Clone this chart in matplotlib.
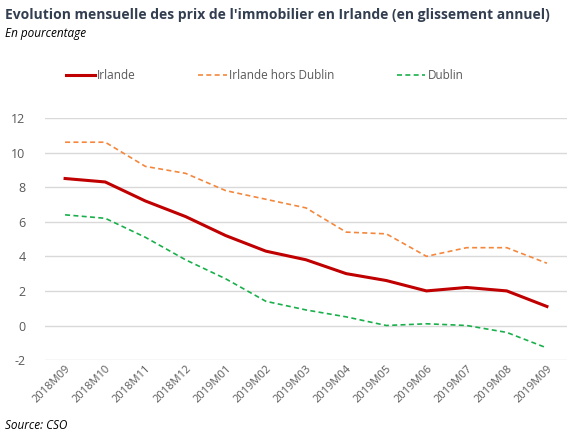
import matplotlib.pyplot as plt
import numpy as np

mois = ["2018M09", "2018M10", "2018M11", "2018M12", "2019M01", "2019M02", "2019M03",
        "2019M04", "2019M05", "2019M06", "2019M07", "2019M08", "2019M09"]
irlande = [8.5, 8.3, 7.2, 6.3, 5.2, 4.3, 3.8, 3.0, 2.6, 2.0, 2.2, 2.0, 1.1]
hors_dublin = [10.6, 10.6, 9.2, 8.8, 7.8, 7.3, 6.8, 5.4, 5.3, 4.0, 4.5, 4.5, 3.6]
dublin = [6.4, 6.2, 5.1, 3.8, 2.7, 1.4, 0.9, 0.5, 0.0, 0.1, 0.0, -0.4, -1.3]
yticks = [-2, 0, 2, 4, 6, 8, 10, 12]

plt.rcParams['font.family'] = ['Open Sans', 'DejaVu Sans']
fig = plt.figure(figsize=(5.8, 4.37), dpi=100)
ax = fig.add_axes([0.0776, 0.176, 0.9, 0.554])

x = np.arange(len(mois))
ax.plot(x, irlande, color="#C00000", lw=2.2, label="Irlande")
ax.plot(x, hors_dublin, color="#F4873C", lw=1.2, ls=(0, (3, 2)), label="Irlande hors Dublin")
ax.plot(x, dublin, color="#19B04B", lw=1.2, ls=(0, (3, 2)), label="Dublin")

ax.set_xlim(-0.5, len(mois) - 0.5)
ax.set_ylim(-2, 12)
ax.set_yticks(yticks)
ax.set_yticklabels([str(v) for v in yticks], fontsize=9, color="#595959")
ax.set_xticks(x)
ax.set_xticklabels(mois, rotation=45, ha="right", rotation_mode="anchor",
                   fontsize=8, color="#595959")
ax.tick_params(axis="both", length=0)
ax.tick_params(axis="y", pad=14)
ax.tick_params(axis="x", pad=2)
ax.grid(axis="y", color="#D9D9D9", lw=1)
ax.set_axisbelow(True)
for s in ax.spines.values():
    s.set_visible(False)

fig.legend(loc="center", bbox_to_anchor=(0.457, 0.828), ncol=3, frameon=False,
           fontsize=8.5, handlelength=2.4, handletextpad=0.2, columnspacing=5.3,
           labelcolor="#595959")

fig.text(0.008, 0.965, "Evolution mensuelle des prix de l'immobilier en Irlande (en glissement annuel)",
         fontsize=10, fontweight="bold", color="#333F50", va="center")
fig.text(0.008, 0.924, "En pourcentage", fontsize=8.5, style="italic", color="black", va="center")
fig.text(0.008, 0.027, "Source: CSO", fontsize=8.5, style="italic", color="black", va="center")

fig.savefig("out.png", dpi=100)
